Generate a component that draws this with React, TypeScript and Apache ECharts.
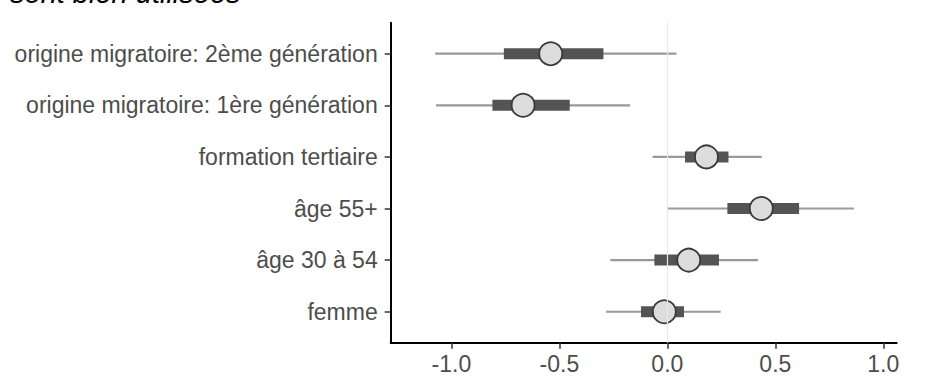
import React, { useEffect, useRef } from "react";
import * as echarts from "echarts";

// bottom to top
const categories = [
  "femme",
  "âge 30 à 54",
  "âge 55+",
  "formation tertiaire",
  "origine migratoire: 1ère génération",
  "origine migratoire: 2ème génération",
];
const estimates = [-0.014, 0.099, 0.435, 0.181, -0.668, -0.54];
const outerLow = [-0.284, -0.264, 0.0, -0.068, -1.071, -1.075];
const outerHigh = [0.247, 0.42, 0.864, 0.437, -0.173, 0.042];
const innerLow = [-0.122, -0.06, 0.278, 0.082, -0.81, -0.757];
const innerHigh = [0.077, 0.239, 0.61, 0.283, -0.452, -0.296];
const xTicks = [-1.0, -0.5, 0.0, 0.5, 1.0];
const titleText = "sont bien utilisées";

const FONT = "Liberation Sans, Arial, Helvetica, sans-serif";

export default function App() {
  const ref = useRef<HTMLDivElement>(null);
  useEffect(() => {
    if (!ref.current) return;
    const chart = echarts.init(ref.current, null, { renderer: "svg" });
    const yVals = categories.map((_, i) => i + 1);
    const intervalData = categories.map((_, i) => [
      outerLow[i],
      outerHigh[i],
      innerLow[i],
      innerHigh[i],
      i + 1,
    ]);
    chart.setOption({
      animation: false,
      textStyle: { fontFamily: FONT },
      grid: { left: 390.7, right: 52.3, top: 22.7, bottom: 42.3, containLabel: false },
      graphic: [
        {
          type: "text",
          x: 10,
          y: -6.8,
          style: {
            text: titleText,
            font: `italic 29px ${FONT}`,
            fill: "#000",
            verticalAlign: "middle",
            align: "left",
          },
        },
      ],
      xAxis: {
        type: "value",
        min: -1.281,
        max: 1.062,
        axisLine: { show: true, onZero: false, lineStyle: { color: "#000", width: 2 } },
        axisTick: {
          show: true,
          length: 6,
          customValues: xTicks,
          lineStyle: { color: "#333", width: 1.5 },
        },
        axisLabel: {
          customValues: xTicks,
          formatter: (v: number) => v.toFixed(1),
          color: "#4d4d4d",
          fontSize: 23,
          fontFamily: FONT,
          margin: 10,
        },
        splitLine: { show: false },
      },
      yAxis: {
        type: "value",
        min: 0.4,
        max: 6.6,
        axisLine: { show: true, onZero: false, lineStyle: { color: "#000", width: 2 } },
        axisTick: {
          show: true,
          length: 6,
          customValues: yVals,
          lineStyle: { color: "#333", width: 1.5 },
        },
        axisLabel: {
          customValues: yVals,
          formatter: (v: number) => categories[Math.round(v) - 1] ?? "",
          color: "#4d4d4d",
          fontSize: 23,
          fontFamily: FONT,
          margin: 13,
        },
        splitLine: { show: false },
      },
      series: [
        {
          type: "line",
          data: [],
          z: 1,
          markLine: {
            silent: true,
            symbol: ["none", "none"],
            label: { show: false },
            lineStyle: { color: "#e8e8e8", width: 1.2, type: "solid" },
            data: [{ xAxis: 0 }],
          },
        },
        {
          type: "custom",
          z: 2,
          data: intervalData,
          renderItem: (params: any, api: any) => {
            const y = api.value(4);
            const a = api.coord([api.value(0), y]);
            const b = api.coord([api.value(1), y]);
            const c = api.coord([api.value(2), y]);
            const d = api.coord([api.value(3), y]);
            const h = 11;
            return {
              type: "group",
              children: [
                {
                  type: "line",
                  shape: { x1: a[0], y1: a[1], x2: b[0], y2: b[1] },
                  style: { stroke: "#999999", lineWidth: 2.2 },
                },
                {
                  type: "rect",
                  shape: { x: c[0], y: c[1] - h / 2, width: d[0] - c[0], height: h },
                  style: { fill: "#545454" },
                },
              ],
            };
          },
        },
        {
          type: "scatter",
          z: 3,
          data: categories.map((_, i) => [estimates[i], i + 1]),
          symbol: "circle",
          symbolSize: 23,
          itemStyle: { color: "#dcdcdc", borderColor: "#3a3a3a", borderWidth: 1.8, opacity: 1 },
        },
      ],
    });
    return () => chart.dispose();
  }, []);
  return (
    <div
      ref={ref}
      style={{ position: "fixed", left: 0, top: 0, width: 949, height: 385, background: "#fff" }}
    />
  );
}
